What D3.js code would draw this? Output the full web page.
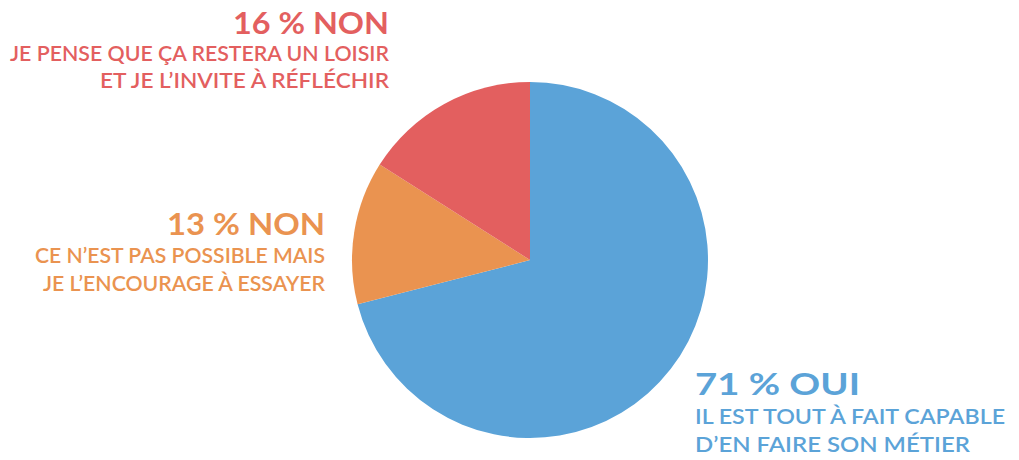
<!DOCTYPE html>
<html>
<head>
<meta charset="utf-8">
<script src="https://cdn.jsdelivr.net/npm/d3@7"></script>
<style>
  body { margin: 0; background: #fff; }
  text { font-family: "Lato", "Noto Sans", sans-serif; }
</style>
</head>
<body>
<script>
// chart data
var categories = ["OUI", "NON", "NON"];
var values = [71, 13, 16];
var colors = ["#5ba3d8", "#ea9350", "#e35f5f"];
var headings = ["71 % OUI", "13 % NON", "16 % NON"];
var captions = [
    ["IL EST TOUT À FAIT CAPABLE", "D’EN FAIRE SON MÉTIER"],
    ["CE N’EST PAS POSSIBLE MAIS", "JE L’ENCOURAGE À ESSAYER"],
    ["JE PENSE QUE ÇA RESTERA UN LOISIR", "ET JE L’INVITE  À RÉFLÉCHIR"]
];

var width = 1019, height = 460;
var cx = 530, cy = 260, radius = 178;

var svg = d3.select("body").append("svg")
    .attr("width", width)
    .attr("height", height);

var pie = d3.pie().sort(null).value(function(d) { return d; });
var arc = d3.arc().innerRadius(0).outerRadius(radius);

var g = svg.append("g")
    .attr("transform", "translate(" + cx + "," + cy + ")");

g.selectAll("path")
    .data(pie(values))
    .enter().append("path")
    .attr("d", arc)
    .style("fill", function(d, i) { return colors[i]; });

// label blocks: x, anchor, heading baseline, line baselines, widths
var labelPos = [
    {x: 695, anchor: "start", y: [395, 424, 452], w: [165, 310, 275]},
    {x: 325, anchor: "end", y: [235, 263, 291], w: [158, 290, 282]},
    {x: 389, anchor: "end", y: [34, 61, 88], w: [156, 379, 289]}
];

labelPos.forEach(function(p, i) {
    svg.append("text")
        .attr("x", p.x)
        .attr("y", p.y[0])
        .attr("text-anchor", p.anchor)
        .attr("textLength", p.w[0])
        .attr("lengthAdjust", "spacingAndGlyphs")
        .style("font-size", "30px")
        .style("font-weight", "bold")
        .style("fill", colors[i])
        .text(headings[i]);
    captions[i].forEach(function(line, j) {
        svg.append("text")
            .attr("x", p.x)
            .attr("y", p.y[j + 1])
            .attr("text-anchor", p.anchor)
            .attr("textLength", p.w[j + 1])
            .attr("lengthAdjust", "spacingAndGlyphs")
            .style("font-size", "21px")
            .style("font-weight", "600")
            .style("fill", colors[i])
            .text(line);
    });
});
</script>
</body>
</html>
